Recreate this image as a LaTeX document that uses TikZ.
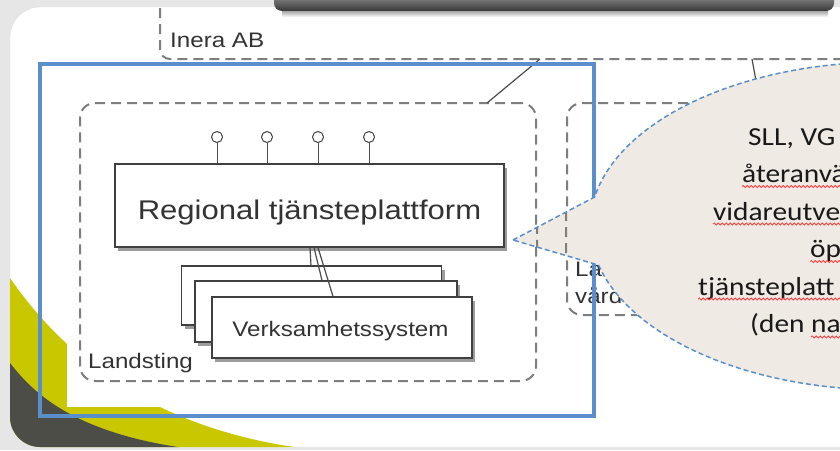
\documentclass[tikz,border=0pt]{standalone}
\usepackage{fontspec}
\usetikzlibrary{shadows,decorations.pathmorphing}
\newfontfamily\hvfont[FakeStretch=1.15]{Liberation Sans}
\newfontfamily\calfont[FakeStretch=1.13]{Carlito}
\definecolor{bluebox}{HTML}{5A8FCB}
\definecolor{beige}{HTML}{EFEBE4}
\definecolor{yel}{HTML}{C9C800}
\definecolor{darkg}{HTML}{4D4D48}
\definecolor{dashg}{HTML}{7E7E7E}
\definecolor{bggray}{HTML}{E6E6E6}
\begin{document}
\begin{tikzpicture}[x=1pt,y=-1pt,
  dashbox/.style={draw=dashg, line width=2pt, dash pattern=on 10pt off 6pt, rounded corners=15pt, inner sep=0pt},
  umlbox/.style={draw=black!75, line width=1.2pt, fill=white, inner sep=0pt,
     drop shadow={shadow xshift=3pt, shadow yshift=-3.5pt, opacity=0.55, fill=black!70}},
  lbl/.style={font=\hvfont\fontsize{21}{25}\selectfont, text=black!80, inner sep=0pt, anchor=base west},
  ctext/.style={font=\calfont\fontsize{26}{30}\selectfont, text=black!90, inner sep=0pt, anchor=base west},
  squig/.style={draw=red!75, line width=0.8pt, decorate, decoration={snake, amplitude=1.1pt, segment length=4pt}},
  lolli/.style={circle, draw=black!75, line width=1pt, fill=white, minimum size=11pt, inner sep=0pt},
  conn/.style={draw=black!70, line width=1.2pt},
  callout/.style={fill=beige}
]
\useasboundingbox (0,0) rectangle (840,450);
\clip (0,0) rectangle (840,450);
\fill[bggray] (0,0) rectangle (840,450);
% slide
\path[fill=white, draw=black!12, rounded corners=30pt] (10,7) rectangle (880,447);
\begin{scope}
  \clip[rounded corners=30pt] (10,7) rectangle (880,447);
  \fill[yel] (0,270) -- (10,278) .. controls (70,365) and (170,440) .. (340,452) -- (0,460) -- cycle;
  \fill[darkg] (0,355) -- (10,363) .. controls (35,395) and (80,440) .. (220,452) -- (0,460) -- cycle;
\end{scope}
\fill[white] (67,15) rectangle (850,407);
% top dark bar (bottom of a box above)
\shade[top color=black!30, bottom color=black!78, rounded corners=8pt] (274,-12) rectangle (834,11);
\shade[top color=black!35, bottom color=white] (282,11) rectangle (828,17);
% Inera AB frame
\draw[dashg, line width=2pt, dash pattern=on 10pt off 6pt, rounded corners=10pt] (160,8) -- (160,59) -- (850,59);
\node[lbl] (inera) at (170,47) {Inera AB};
\coordinate (ineraJ) at (540,59);
\coordinate (ineraJ2) at (752,59);
% right region box
\node[dashbox, minimum width=200, minimum height=212] (rb) at (667,209) {};
\node[lbl] (rbl1) at (575,276) {La};
\node[lbl] (rbl2) at (575,303) {vård};
\coordinate (rbJ) at (760,103);
\draw[conn] (ineraJ2) -- (rbJ);
% Landsting box
\node[dashbox, minimum width=456, minimum height=278] (lt) at (308,242) {};
\node[lbl] (ltl) at (88,368) {Landsting};
\coordinate (ltJ) at (487,103);
\draw[conn] (ltJ) -- (ineraJ);
% blue frame
\node[draw=bluebox, line width=3.6pt, minimum width=554, minimum height=352, inner sep=0pt] (blue) at (317,240) {};
% stacked systems
\node[umlbox, minimum width=260, minimum height=59] (vs3) at (311.5,295.5) {};
\node[umlbox, minimum width=262, minimum height=61] (vs2) at (326,311.5) {};
\node[umlbox, minimum width=260, minimum height=61] (vs1) at (342,327.5) {};
\node[lbl, anchor=base] (vst) at (340.5,336.5) {Verksamhetssystem};
% regional platform
\node[umlbox, minimum width=389, minimum height=83] (rtp) at (309.5,205.5) {};
\node[lbl, anchor=base, font=\hvfont\fontsize{27}{32}\selectfont] (rtpt) at (309.5,219) {Regional tjänsteplattform};
\draw[conn] (rtp.south -| 310,0) -- (vs3.north -| 311,0);
\draw[conn] (rtp.south -| 314,0) -- (vs2.north -| 322,0);
\draw[conn] (rtp.south -| 318,0) -- (vs1.north -| 333,0);
% lollipops
\foreach \i/\xx in {1/217,2/267,3/318,4/369}{
  \node[lolli] (p\i) at (\xx,137) {};
  \draw[conn, line width=1pt] (p\i) -- (p\i |- rtp.north);
}
% callout
\path[callout] (513,240) -- plot[domain=169.8:-166.2, samples=140] ({887+297*cos(\x)},{226-164*sin(\x)}) -- cycle;
\begin{scope}
  \clip (513,240) -- (595,197) -- (599,265) -- cycle;
  \draw[dashg, line width=2pt, dash pattern=on 10pt off 6pt, rounded corners=15pt] (lt.south west) rectangle (lt.north east);
  \draw[dashg, line width=2pt, dash pattern=on 10pt off 6pt, rounded corners=15pt] (rb.south west) rectangle (rb.north east);
\end{scope}
\draw[bluebox, line width=1.5pt, dash pattern=on 5pt off 3pt] (513,240) -- plot[domain=169.8:-166.2, samples=140] ({887+297*cos(\x)},{226-164*sin(\x)}) -- cycle;
% callout text
\node[ctext] (ct1) at (748,145) {SLL, VG};
\node[ctext] (ct2) at (742,182.5) {återanvä};
\node[ctext] (ct3) at (713,220) {vidareutve};
\node[ctext] (ct4) at (810,257.5) {öp};
\node[ctext] (ct5) at (698,295) {tjänsteplatt};
\node[ctext] (ct6) at (750,332.5) {(den na};
\draw[squig] (742,186.5) -- (845,186.5);
\draw[squig] (713,224) -- (845,224);
\draw[squig] (810,261.5) -- (845,261.5);
\draw[squig] (698,299) -- (845,299);
\draw[squig] (811,337) -- (845,337);
\end{tikzpicture}
\end{document}
